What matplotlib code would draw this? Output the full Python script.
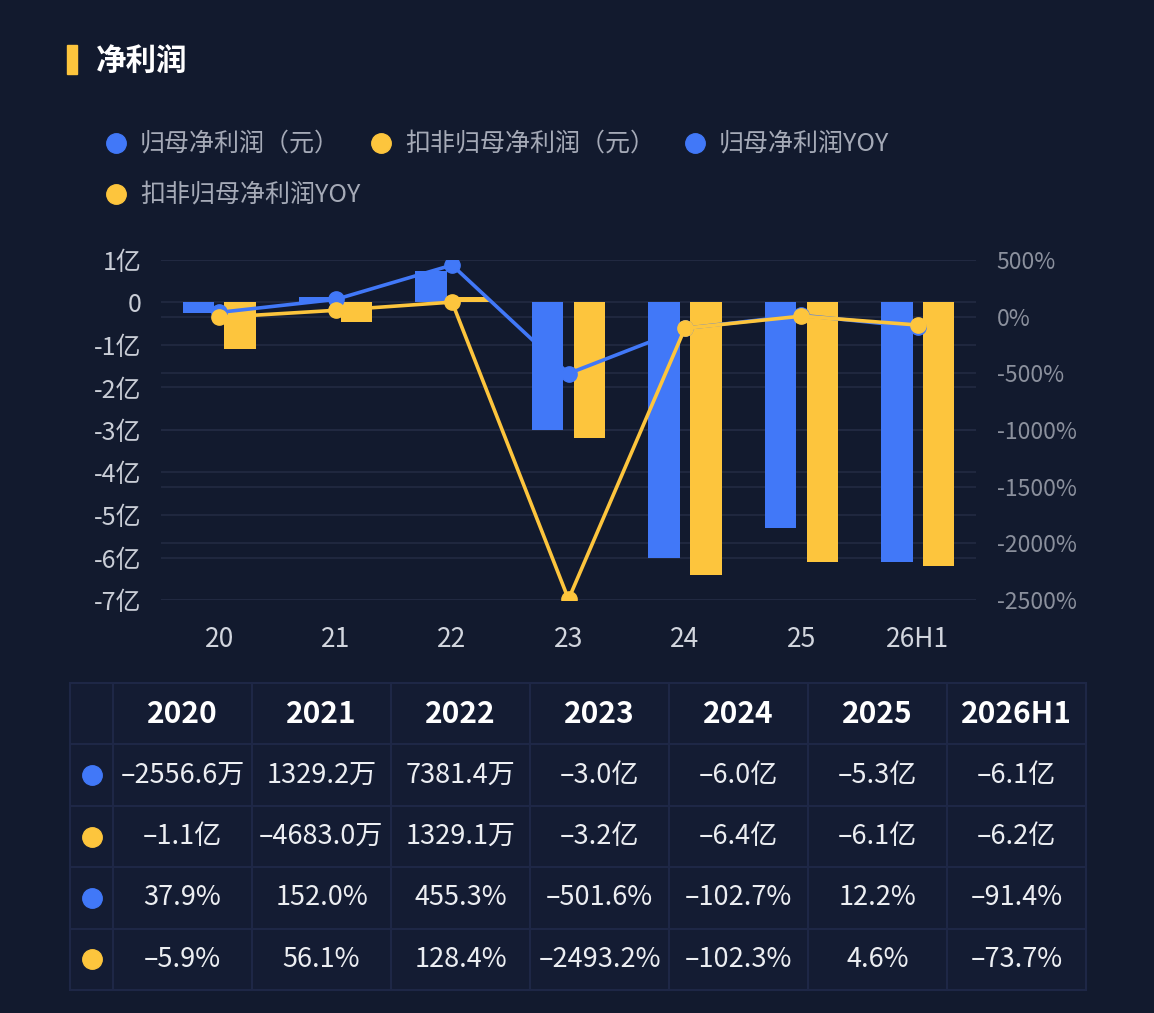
import matplotlib.pyplot as plt
from matplotlib.patches import Rectangle
from matplotlib.transforms import blended_transform_factory

plt.rcParams['font.family'] = ['Noto Sans CJK SC', 'DejaVu Sans']

# ---- data ----
years = ['20', '21', '22', '23', '24', '25', '26H1']
table_years = ['2020', '2021', '2022', '2023', '2024', '2025', '2026H1']
np_parent = [-0.2557, 0.1329, 0.7381, -3.0, -6.0, -5.3, -6.1]        # 亿
np_deduct = [-1.1, -0.4683, 0.1329, -3.2, -6.4, -6.1, -6.2]          # 亿
yoy_parent = [37.9, 152.0, 455.3, -501.6, -102.7, 12.2, -91.4]       # %
yoy_deduct = [-5.9, 56.1, 128.4, -2493.2, -102.3, 4.6, -73.7]        # %

row_parent = ['–2556.6万', '1329.2万', '7381.4万', '–3.0亿', '–6.0亿', '–5.3亿', '–6.1亿']
row_deduct = ['–1.1亿', '–4683.0万', '1329.1万', '–3.2亿', '–6.4亿', '–6.1亿', '–6.2亿']
row_yoy_parent = ['37.9%', '152.0%', '455.3%', '–501.6%', '–102.7%', '12.2%', '–91.4%']
row_yoy_deduct = ['–5.9%', '56.1%', '128.4%', '–2493.2%', '–102.3%', '4.6%', '–73.7%']

left_ticks = [1, 0, -1, -2, -3, -4, -5, -6, -7]
left_labels = ['1亿', '0', '-1亿', '-2亿', '-3亿', '-4亿', '-5亿', '-6亿', '-7亿']
right_ticks = [500, 0, -500, -1000, -1500, -2000, -2500]
right_labels = ['500%', '0%', '-500%', '-1000%', '-1500%', '-2000%', '-2500%']

legend_labels = ['归母净利润（元）', '扣非归母净利润（元）', '归母净利润YOY', '扣非归母净利润YOY']

BG = '#121a2e'
BLUE = '#4178f8'
YELLOW = '#fdc53d'
GRID = '#222a42'

W, H = 1154, 1013
fig = plt.figure(figsize=(W / 100, H / 100), dpi=100, facecolor=BG)

# overlay axes in pixel units for title / legend / table
bg = fig.add_axes([0, 0, 1, 1])
bg.set_xlim(0, W)
bg.set_ylim(H, 0)
bg.axis('off')

bg.add_patch(Rectangle((67, 45), 10, 29, color=YELLOW))
bg.text(96, 61, '净利润', color='white', fontsize=22, fontweight='bold', va='center', ha='left')

leg_pos = [(116, 143), (381, 143), (695, 143), (116, 194)]
leg_cols = [BLUE, YELLOW, BLUE, YELLOW]
for (lx, ly), c, lab in zip(leg_pos, leg_cols, legend_labels):
    bg.plot(lx, ly, 'o', ms=14, color=c)
    bg.text(lx + 24, ly, lab, color='#a5aab7', fontsize=18, va='center', ha='left')

# ---- chart ----
ax = fig.add_axes([161 / W, 1 - 600 / H, (976 - 161) / W, 340 / H])
ax.patch.set_alpha(0)
ax2 = ax.twinx()
ax2.patch.set_alpha(0)

x = list(range(len(years)))
bw = 0.27
ax.set_xlim(-0.5, len(years) - 0.5)
ax.set_ylim(-7, 1)
ax2.set_ylim(-2500, 500)

# both grids go under the bars
ax.grid(axis='y', color=GRID, lw=1.2, zorder=0)
ax.set_axisbelow(True)
rt = blended_transform_factory(ax.transAxes, ax2.transData)
for t in right_ticks:
    ax.plot([0, 1], [t, t], color=GRID, lw=1.2, transform=rt, zorder=0.5)

ax.bar([i - 0.18 for i in x], np_parent, width=bw, color=BLUE, zorder=2)
ax.bar([i + 0.18 for i in x], np_deduct, width=bw, color=YELLOW, zorder=2)
ax.set_yticks(left_ticks)
ax.set_yticklabels(left_labels)
ax.set_xticks(x)
ax.set_xticklabels(years)
ax.tick_params(axis='y', length=0, pad=14, labelsize=18, labelcolor='#c9cdd6')
ax.tick_params(axis='x', length=0, pad=19, labelsize=19, labelcolor='#d2d6de')
for s in ax.spines.values():
    s.set_visible(False)

ax2.plot(x, yoy_parent, '-o', color=BLUE, lw=2.6, ms=11, zorder=3)
ax2.plot(x, yoy_deduct, '-o', color=YELLOW, lw=2.6, ms=11, zorder=4)
ax2.set_yticks(right_ticks)
ax2.set_yticklabels(right_labels)
ax2.tick_params(axis='y', length=0, pad=15, labelsize=16.5, labelcolor='#8b909d')
for s in ax2.spines.values():
    s.set_visible(False)

# ---- table ----
col_edges = [70, 113] + [113 + 139 * (k + 1) for k in range(len(table_years))]
row_top = 683
row_h = 61.4
rows = [row_parent, row_deduct, row_yoy_parent, row_yoy_deduct]
row_cols = [BLUE, YELLOW, BLUE, YELLOW]
CELL = '#141c33'
LINE = '#1e2746'
n_rows = len(rows) + 1
for r in range(n_rows):
    y0 = row_top + r * row_h
    for c in range(len(col_edges) - 1):
        x0 = col_edges[c]
        bg.add_patch(Rectangle((x0, y0), col_edges[c + 1] - x0, row_h,
                               facecolor=CELL, edgecolor=LINE, lw=1.5))
for c, yr in enumerate(table_years):
    xc = (col_edges[c + 1] + col_edges[c + 2]) / 2
    bg.text(xc, row_top + row_h / 2, yr, color='white', fontsize=21.5, fontweight='bold',
            ha='center', va='center')
for r, (vals, col) in enumerate(zip(rows, row_cols)):
    yc = row_top + (r + 1.5) * row_h
    bg.plot((col_edges[0] + col_edges[1]) / 2, yc, 'o', ms=14, color=col)
    for c, v in enumerate(vals):
        xc = (col_edges[c + 1] + col_edges[c + 2]) / 2
        bg.text(xc, yc, v, color='#eceef2', fontsize=19.5, ha='center', va='center')

fig.savefig('out.png', dpi=100, facecolor=BG)
